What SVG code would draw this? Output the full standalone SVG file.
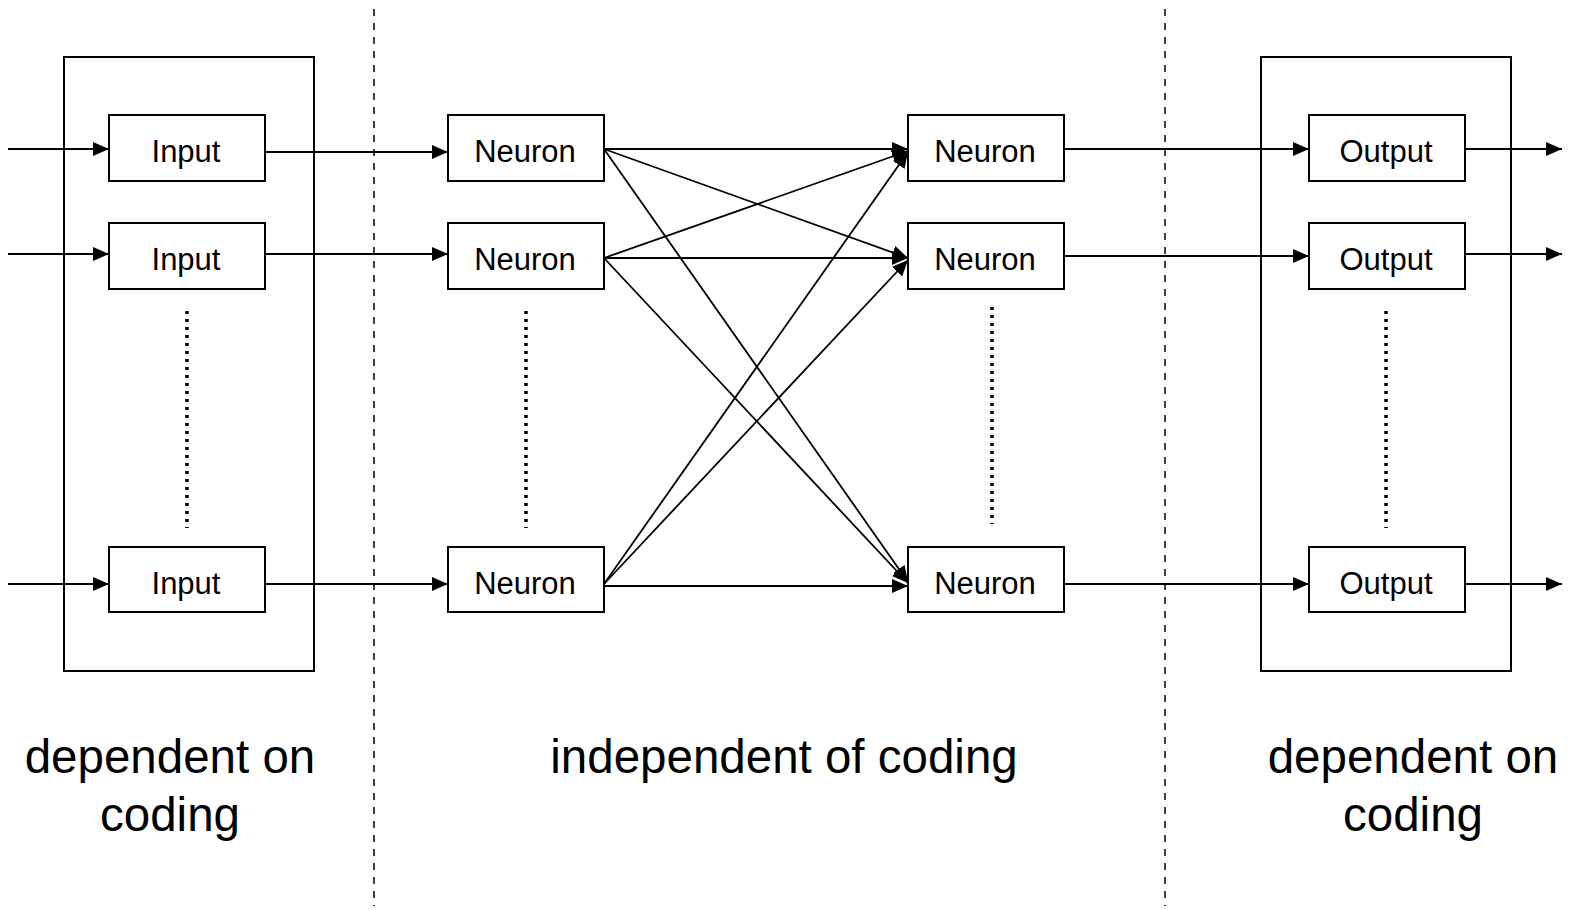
<svg xmlns="http://www.w3.org/2000/svg" width="1571" height="910" viewBox="0 0 1571 910">
<style>
.box{fill:#fff;stroke:#000;stroke-width:2}
.grp{fill:none;stroke:#000;stroke-width:2}
.lbl{font-family:"Liberation Sans",Arial,sans-serif;font-size:31px;fill:#000;text-anchor:middle}
.big{font-family:"Liberation Sans",Arial,sans-serif;font-size:47.5px;fill:#000;text-anchor:middle}
.con{stroke:#000;stroke-width:1.8;fill:none;marker-end:url(#ah)}
.sep{stroke:#000;stroke-width:1.5;stroke-dasharray:7 7;fill:none}
.dots{stroke:#000;stroke-width:3.5;stroke-dasharray:3 5;fill:none}
</style>
<defs>
<marker id="ah" markerUnits="userSpaceOnUse" markerWidth="18" markerHeight="16" refX="16" refY="7" orient="auto">
<path d="M0,0 L16,7 L0,14 Z" fill="#000"/>
</marker>
</defs>
<rect width="1571" height="910" fill="#fff"/>
<g id="separators">
<line class="sep" x1="374" y1="9" x2="374" y2="906"/>
<line class="sep" x1="1165" y1="9" x2="1165" y2="906"/>
</g>
<g id="input-group"><rect class="grp" x="64" y="57" width="250" height="614"/></g>
<g id="output-group"><rect class="grp" x="1261" y="57" width="250" height="614"/></g>
<g id="connectors">
<line class="con" x1="8" y1="149" x2="109" y2="149"/>
<line class="con" x1="8" y1="254" x2="109" y2="254"/>
<line class="con" x1="8" y1="584" x2="109" y2="584"/>
<line class="con" x1="265" y1="152" x2="448" y2="152"/>
<line class="con" x1="265" y1="254" x2="448" y2="254"/>
<line class="con" x1="265" y1="584" x2="448" y2="584"/>
<line class="con" x1="604" y1="149" x2="908" y2="149"/>
<line class="con" x1="604" y1="149" x2="908" y2="258"/>
<line class="con" x1="604" y1="149" x2="908" y2="582"/>
<line class="con" x1="604" y1="258" x2="908" y2="151"/>
<line class="con" x1="604" y1="258" x2="908" y2="258"/>
<line class="con" x1="604" y1="258" x2="908" y2="583"/>
<line class="con" x1="604" y1="584" x2="908" y2="152"/>
<line class="con" x1="604" y1="584" x2="908" y2="260"/>
<line class="con" x1="604" y1="586" x2="908" y2="586"/>
<line class="con" x1="1064" y1="149" x2="1309" y2="149"/>
<line class="con" x1="1064" y1="256" x2="1309" y2="256"/>
<line class="con" x1="1064" y1="584" x2="1309" y2="584"/>
<line class="con" x1="1465" y1="149" x2="1562" y2="149"/>
<line class="con" x1="1465" y1="254" x2="1562" y2="254"/>
<line class="con" x1="1465" y1="584" x2="1562" y2="584"/>
</g>
<g id="ellipses">
<line class="dots" x1="187" y1="311" x2="187" y2="528"/>
<line class="dots" x1="526" y1="311" x2="526" y2="528"/>
<line class="dots" x1="992" y1="307" x2="992" y2="524"/>
<line class="dots" x1="1386" y1="311" x2="1386" y2="528"/>
</g>
<g id="input1"><rect class="box" x="109" y="115" width="156" height="66"/><text class="lbl" x="186" y="162">Input</text></g>
<g id="input2"><rect class="box" x="109" y="223" width="156" height="66"/><text class="lbl" x="186" y="270">Input</text></g>
<g id="input3"><rect class="box" x="109" y="547" width="156" height="65"/><text class="lbl" x="186" y="594">Input</text></g>
<g id="neuronA1"><rect class="box" x="448" y="115" width="156" height="66"/><text class="lbl" x="525" y="162">Neuron</text></g>
<g id="neuronA2"><rect class="box" x="448" y="223" width="156" height="66"/><text class="lbl" x="525" y="270">Neuron</text></g>
<g id="neuronA3"><rect class="box" x="448" y="547" width="156" height="65"/><text class="lbl" x="525" y="594">Neuron</text></g>
<g id="neuronB1"><rect class="box" x="908" y="115" width="156" height="66"/><text class="lbl" x="985" y="162">Neuron</text></g>
<g id="neuronB2"><rect class="box" x="908" y="223" width="156" height="66"/><text class="lbl" x="985" y="270">Neuron</text></g>
<g id="neuronB3"><rect class="box" x="908" y="547" width="156" height="65"/><text class="lbl" x="985" y="594">Neuron</text></g>
<g id="output1"><rect class="box" x="1309" y="115" width="156" height="66"/><text class="lbl" x="1386" y="162">Output</text></g>
<g id="output2"><rect class="box" x="1309" y="223" width="156" height="66"/><text class="lbl" x="1386" y="270">Output</text></g>
<g id="output3"><rect class="box" x="1309" y="547" width="156" height="65"/><text class="lbl" x="1386" y="594">Output</text></g>
<g id="labels">
<text class="big" x="170" y="773">dependent on</text>
<text class="big" x="170" y="831">coding</text>
<text class="big" x="784" y="773">independent of coding</text>
<text class="big" x="1413" y="773">dependent on</text>
<text class="big" x="1413" y="831">coding</text>
</g>
</svg>
